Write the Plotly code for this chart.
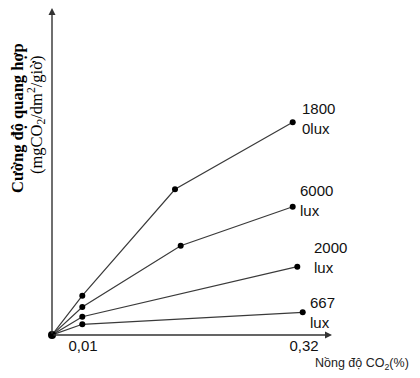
import plotly.graph_objects as go

# Schematic chart: x/y in chart units (axis not to scale)
series_names = ["1800<br>0lux", "6000<br>lux", "2000<br>lux", "667<br>lux"]
x_18000 = [0, 30.3, 123, 240.7]
y_18000 = [0, 39.3, 145.7, 212.7]
x_6000 = [0, 30.3, 128.7, 240.7]
y_6000 = [0, 28, 89.3, 128.3]
x_2000 = [0, 30.3, 245.3]
y_2000 = [0, 18.3, 68.3]
x_667 = [0, 30.3, 250.7]
y_667 = [0, 10.7, 22.7]

tick_vals = [31, 252]
tick_text = ["0,01", "0,32"]

xs = [x_18000, x_6000, x_2000, x_667]
ys = [y_18000, y_6000, y_2000, y_667]
label_shift = [(7, 4), (5, 6), (15, 9), (5, 0)]

# page body has an 8px margin: compensate
OFF = 8
W, H = 420 - OFF, 378 - OFF
ml, mr, mt, mb = 52 - OFF, 88, 0, 43
pw, ph = W - ml - mr, H - mt - mb


def fx(px):
    return (px - OFF - ml) / pw


def fy(py):
    return 1 - (py - OFF - mt) / ph


fig = go.Figure()
for name, x, y in zip(series_names, xs, ys):
    fig.add_trace(go.Scatter(x=x, y=y, mode="lines+markers",
                             line=dict(color="#3a3a3a", width=1.2),
                             marker=dict(color="black", size=6),
                             cliponaxis=False, showlegend=False, hoverinfo="skip"))
fig.add_trace(go.Scatter(x=[0], y=[0], mode="markers", marker=dict(color="black", size=8),
                         cliponaxis=False, showlegend=False, hoverinfo="skip"))

ann = []
for name, x, y, (dx, dy) in zip(series_names, xs, ys, label_shift):
    ann.append(dict(x=x[-1], y=y[-1], xref="x", yref="y", text=name, showarrow=False,
                    xanchor="left", yanchor="middle", align="left", xshift=dx, yshift=dy,
                    font=dict(family="Liberation Sans, Arial", size=15, color="#111")))

# axes with arrowheads
ann.append(dict(x=0, y=ph, ax=0, ay=0, xref="x", yref="y", axref="x", ayref="y", text="",
                showarrow=True, arrowhead=2, arrowsize=1, arrowwidth=1.4, arrowcolor="#333"))
ann.append(dict(x=280, y=0, ax=0, ay=0, xref="x", yref="y", axref="x", ayref="y", text="",
                showarrow=True, arrowhead=2, arrowsize=1, arrowwidth=1.4, arrowcolor="#333"))

# axis titles
ann.append(dict(x=fx(17), y=fy(118), xref="paper", yref="paper", text="<b>Cường độ quang hợp</b>",
                showarrow=False, textangle=-90, xanchor="center", yanchor="middle",
                font=dict(family="Liberation Serif, Times New Roman", size=16.5, color="black")))
ann.append(dict(x=fx(36), y=fy(115), xref="paper", yref="paper",
                text="(mgCO<sub>2</sub>/dm<sup>2</sup>/giờ)",
                showarrow=False, textangle=-90, xanchor="center", yanchor="middle",
                font=dict(family="Liberation Serif, Times New Roman", size=16.5, color="black")))
ann.append(dict(x=fx(362), y=fy(364), xref="paper", yref="paper", text="Nồng độ CO<sub>2</sub>(%)",
                showarrow=False, xanchor="center", yanchor="middle",
                font=dict(family="Liberation Sans, Arial", size=12.5, color="#222")))

fig.update_layout(
    width=W, height=H, margin=dict(l=ml, r=mr, t=mt, b=mb),
    paper_bgcolor="white", plot_bgcolor="white",
    xaxis=dict(range=[0, pw], showgrid=False, zeroline=False, showline=False,
               tickvals=tick_vals, ticktext=tick_text, ticks="",
               tickfont=dict(family="Liberation Sans, Arial", size=15, color="#111")),
    yaxis=dict(range=[0, ph], showgrid=False, zeroline=False, showline=False,
               showticklabels=False),
    annotations=ann,
)
fig.write_html("out.html")
